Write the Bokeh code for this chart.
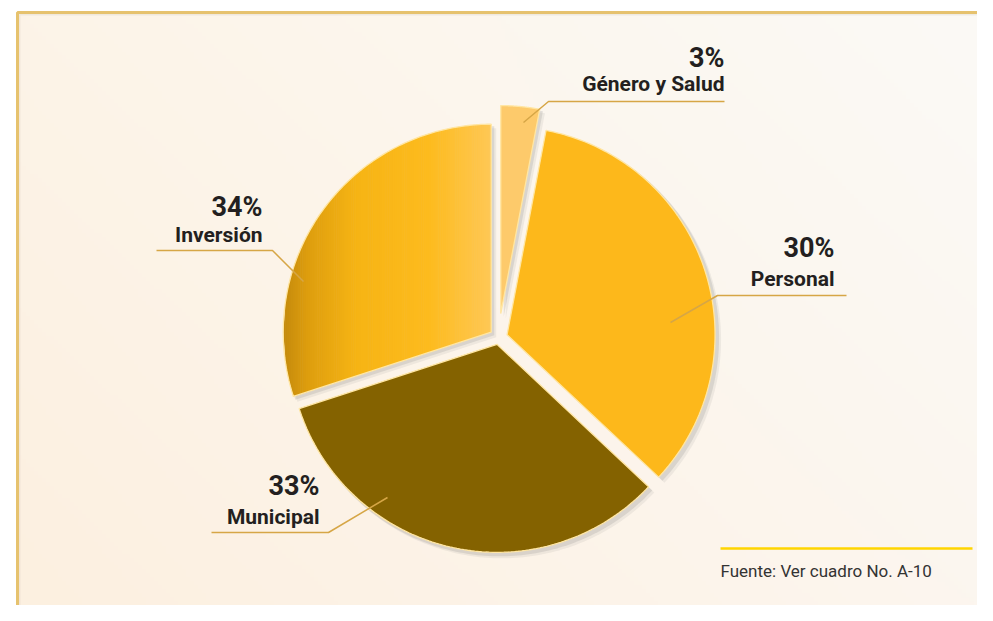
import numpy as np
from bokeh.plotting import figure
from bokeh.models import Range1d
from bokeh.embed import file_html
from bokeh.resources import INLINE
from bokeh.core.properties import value

# ---------------- data ----------------
categories = ["Género y Salud", "Personal", "Municipal", "Inversión"]
shares = [3, 34, 33, 30]            # slice sizes as drawn in the picture (% of circle)
pct_labels = ["3%", "30%", "33%", "34%"]   # percentages as printed on the chart
source_note = "Fuente: Ver cuadro No. A-10"

# ---------------- styling / layout ----------------
slice_colors = ["#FDCA6B", "#FDB81B", "#846200", None]   # None -> gradient
explode = [24, 9, 7, 9]
FONT = "Roboto"
TEXT_COLOR = "#231F20"
LEADER_COLOR = "#D6A646"
TEXT_SHIFT = 8   # baseline correction (px)

W, H = 977, 605


def Y(py):
    return H - py


p = figure(width=W, height=H, x_range=Range1d(0, W), y_range=Range1d(0, H),
           output_backend="svg", toolbar_location=None, min_border=0)
p.axis.visible = False
p.grid.visible = False
p.outline_line_color = None
p.background_fill_color = "white"
p.border_fill_color = "white"

# ---------------- background gradient ----------------
gw, gh = 240, 150
x0b, x1b = 17, W
y0b, y1b = 0, Y(12)
TL = np.array([253, 244, 232]); TR = np.array([251, 250, 246])
BL = np.array([253, 240, 224]); BR = np.array([252, 246, 239])
u = np.linspace(0, 1, gw)[None, :, None]
v = np.linspace(0, 1, gh)[:, None, None]   # row 0 = bottom
col = (BL * (1 - u) + BR * u) * (1 - v) + (TL * (1 - u) + TR * u) * v
img = np.empty((gh, gw), dtype=np.uint32)
view = img.view(dtype=np.uint8).reshape((gh, gw, 4))
view[..., 0] = col[..., 0]
view[..., 1] = col[..., 1]
view[..., 2] = col[..., 2]
view[..., 3] = 255
p.image_rgba(image=[img], x=x0b, y=y0b, dw=x1b - x0b, dh=y1b - y0b)

# frame (top and left edges)
p.line([18, 18, W], [0, Y(13), Y(13)], line_color="#D9D2C4", line_width=4, line_alpha=0.35)
p.line([17, 17, W], [0, Y(12), Y(12)], line_color="#E6C26E", line_width=3)

# ---------------- pie ----------------
CX, CY = 498, Y(337)
R = 208


def wedge_poly(ax, ay, a0, a1, r, n=120):
    t = np.radians(np.linspace(a0, a1, n))
    xs = np.concatenate([[ax], ax + r * np.cos(t), [ax]])
    ys = np.concatenate([[ay], ay + r * np.sin(t), [ay]])
    return xs, ys


geo = []
cum = 0.0
for i, s in enumerate(shares):
    a_hi = 90 - 3.6 * cum
    a_lo = a_hi - 3.6 * s
    cum += s
    mid = np.radians((a_lo + a_hi) / 2)
    ax = CX + explode[i] * np.cos(mid)
    ay = CY + explode[i] * np.sin(mid)
    geo.append((ax, ay, a_lo, a_hi))

# shadows
for (ax, ay, a0, a1) in geo:
    xs, ys = wedge_poly(ax, ay, a0, a1, R + 1)
    p.patch(xs + 5, ys - 5, fill_color="#7a7a7a", fill_alpha=0.10, line_color=None)
    p.patch(xs + 3, ys - 3, fill_color="#7a7a7a", fill_alpha=0.18, line_color=None)

# slices
for i, (ax, ay, a0, a1) in enumerate(geo):
    xs, ys = wedge_poly(ax, ay, a0, a1, R)
    if slice_colors[i] is not None:
        p.patch(xs, ys, fill_color=slice_colors[i], line_color="#FFE6A3", line_width=1.3)
    else:
        # horizontal gradient drawn as thin vertical strips of the wedge
        # (wedge spans from the top (90 deg) anticlockwise to its lower edge a1)
        stops_t = [0.0, 0.12, 0.35, 0.7, 1.0]
        stops_c = np.array([[196, 138, 12], [222, 158, 14], [246, 180, 20],
                            [253, 187, 30], [254, 200, 86]], dtype=float)
        xmin = ax - R
        xmax = ax
        nstrip = 110
        edges = np.linspace(xmin, xmax, nstrip + 1)
        slope = np.tan(np.radians(a1))

        def top_bot(x):
            dx = np.clip(x - ax, -R, 0)
            h = np.sqrt(np.maximum(R * R - dx * dx, 0))
            line_y = ay + dx * slope
            return ay + h, np.maximum(ay - h, line_y)

        sx, sy, sc = [], [], []
        for k in range(nstrip):
            xa, xb = edges[k], min(edges[k + 1] + 0.6, xmax)
            ta, ba = top_bot(xa)
            tb, bb = top_bot(xb)
            t = (0.5 * (edges[k] + edges[k + 1]) - xmin) / (xmax - xmin)
            c = [np.interp(t, stops_t, stops_c[:, j]) for j in range(3)]
            sx.append([xa, xb, xb, xa])
            sy.append([ba, bb, tb, ta])
            sc.append("#%02x%02x%02x" % tuple(int(round(q)) for q in c))
        p.patches(sx, sy, fill_color=sc, line_color=None)
        p.patch(xs, ys, fill_color=None, line_color="#FFE6A3", line_width=1.3)

# ---------------- labels ----------------
label_layout = [
    # pct baseline, name baseline, leader points (image px)
    ((724, 65), (724, 91), [(523, 122), (548, 101), (724, 101)]),
    ((834, 255), (834, 286), [(670, 322), (717, 295), (846, 295)]),
    ((319, 493), (319, 524), [(387, 497), (328, 532), (211, 532)]),
    ((262, 214), (262, 242), [(303, 281), (272, 250), (156, 250)]),
]
for i, (pp, npos, lead) in enumerate(label_layout):
    p.line([q[0] for q in lead], [Y(q[1]) for q in lead], line_color=LEADER_COLOR, line_width=1.5)
    p.text(x=[pp[0]], y=[Y(pp[1] - TEXT_SHIFT)], text=[pct_labels[i]], text_font=value(FONT),
           text_font_style="bold", text_font_size="27px", text_align="right",
           text_baseline="alphabetic", text_color=TEXT_COLOR)
    p.text(x=[npos[0]], y=[Y(npos[1] - TEXT_SHIFT)], text=[categories[i]], text_font=value(FONT),
           text_font_style="bold", text_font_size="21px", text_align="right",
           text_baseline="alphabetic", text_color=TEXT_COLOR)

# source
p.line([720, 972], [Y(548), Y(548)], line_color="#FFD500", line_width=2.5)
p.text(x=[720], y=[Y(578 - TEXT_SHIFT)], text=[source_note], text_font=value(FONT),
       text_font_size="17px", text_align="left", text_baseline="alphabetic",
       text_color="#333333")

open("out.html", "w").write(file_html(p, INLINE))
